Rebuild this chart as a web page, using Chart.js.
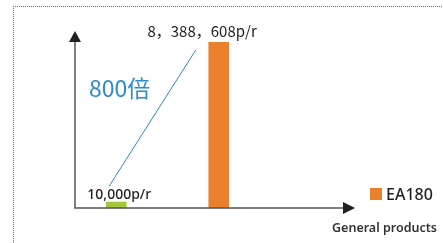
<!DOCTYPE html>
<html>
<head>
<meta charset="utf-8">
<script src="https://cdn.jsdelivr.net/npm/chart.js@4"></script>
<style>
  body { margin: 0; background: #fff; }
  #wrap { position: relative; width: 443px; height: 243px; overflow: hidden; }
  #frame { position: absolute; left: 13px; top: 6px; width: 500px; height: 300px;
           border-top: 1px dotted #2f7fcf; border-left: 1px dotted #2f7fcf; }
  canvas { position: absolute; left: 0; top: 0; }
</style>
</head>
<body>
<div id="wrap">
  <div id="frame"></div>
  <canvas id="myChart" width="443" height="243"></canvas>
</div>
<script>
// 데이터
var categories = ['General products', 'EA180'];
var speeds = [10000, 8388608];
var valueLabels = ['10,000p/r', '8，388，608p/r'];
var ratioLabel = '800倍';
var barColors = ['#a6c73c', '#e8802e'];

// 축, 화살표, 라벨 그리기
var decorPlugin = {
    id: 'decor',
    afterDatasetsDraw: function(chart) {
        var ctx = chart.ctx;
        var area = chart.chartArea;
        var y0 = chart.scales.y.getPixelForValue(0);
        var ax = area.left + 10;
        var bars = chart.getDatasetMeta(0).data;

        ctx.save();
        // 축
        ctx.strokeStyle = '#555';
        ctx.lineWidth = 1.5;
        ctx.beginPath();
        ctx.moveTo(ax, area.top);
        ctx.lineTo(ax, y0);
        ctx.lineTo(ax + 270, y0);
        ctx.stroke();
        // 화살표
        ctx.fillStyle = '#231f20';
        ctx.beginPath();
        ctx.moveTo(ax, area.top - 11);
        ctx.lineTo(ax - 6, area.top);
        ctx.lineTo(ax + 6, area.top);
        ctx.closePath();
        ctx.fill();
        ctx.beginPath();
        ctx.moveTo(ax + 280, y0);
        ctx.lineTo(ax + 268, y0 - 6);
        ctx.lineTo(ax + 268, y0 + 6);
        ctx.closePath();
        ctx.fill();

        // 값 라벨
        ctx.fillStyle = '#231f20';
        ctx.textBaseline = 'alphabetic';
        ctx.textAlign = 'center';
        ctx.font = '500 14px "Noto Sans", sans-serif';
        ctx.fillText(valueLabels[0], bars[0].x + 3, bars[0].y - 3);
        ctx.textAlign = 'right';
        ctx.font = '15px "Noto Sans CJK SC", sans-serif';
        ctx.fillText(valueLabels[1], bars[1].x + 38, bars[1].y - 5);

        // 연결선
        ctx.strokeStyle = '#2b86c9';
        ctx.lineWidth = 1;
        ctx.beginPath();
        ctx.moveTo(bars[0].x - 7, bars[0].y - 16);
        ctx.lineTo(bars[1].x - 23, bars[1].y + 8);
        ctx.stroke();

        // 배수
        ctx.fillStyle = '#2b8ccc';
        ctx.textAlign = 'left';
        ctx.font = '23px "Noto Sans CJK SC", sans-serif';
        ctx.fillText(ratioLabel, ax + 14, area.top + 55);

        // 축 제목
        ctx.fillStyle = '#333';
        ctx.textAlign = 'right';
        ctx.font = '600 12.5px "Noto Sans", sans-serif';
        ctx.fillText(categories[0], 437, y0 + 24);

        // 범례
        ctx.fillStyle = barColors[1];
        ctx.fillRect(370, 188, 12, 12);
        ctx.fillStyle = '#231f20';
        ctx.textAlign = 'left';
        ctx.font = '500 16px "Noto Sans", sans-serif';
        ctx.fillText(categories[1], 386, 200);
        ctx.restore();
    }
};

var ctx = document.getElementById('myChart').getContext('2d');
var myChart = new Chart(ctx, {
    type: 'bar',
    data: {
        labels: categories,
        datasets: [{
            label: 'Speed',
            data: speeds,
            backgroundColor: barColors,
            barThickness: 20,
            minBarLength: 6,
            borderWidth: 0
        }]
    },
    options: {
        responsive: false,
        animation: false,
        layout: { padding: { left: 65, right: 173, top: 42, bottom: 35 } },
        plugins: { legend: { display: false }, tooltip: { enabled: false } },
        scales: {
            x: { display: false },
            y: { display: false, min: 0, max: Math.max.apply(null, speeds) }
        }
    },
    plugins: [decorPlugin]
});
</script>
</body>
</html>
